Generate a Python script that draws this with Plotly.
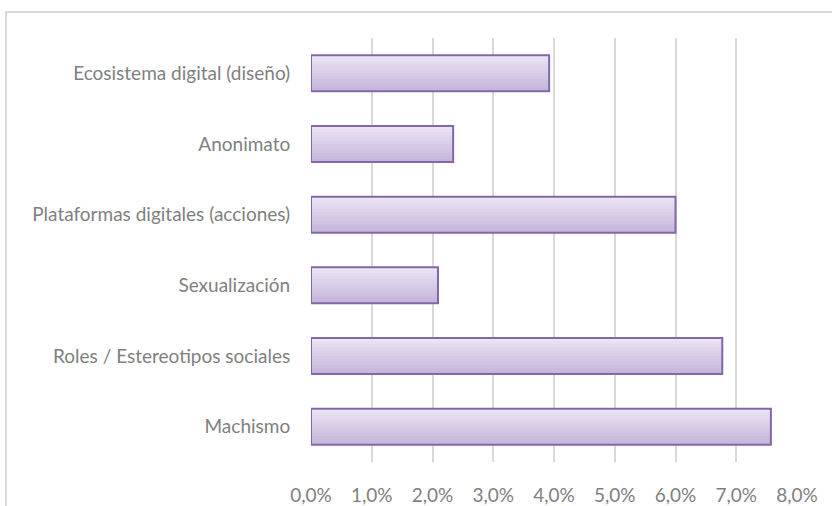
import plotly.graph_objects as go

categories = [
    "Ecosistema digital (diseño)",
    "Anonimato",
    "Plataformas digitales (acciones)",
    "Sexualización",
    "Roles / Estereotipos sociales",
    "Machismo",
]
values = [0.0392, 0.0234, 0.0600, 0.0209, 0.0677, 0.0757]
tick_vals = [0, 0.01, 0.02, 0.03, 0.04, 0.05, 0.06, 0.07, 0.08]

# gradient fill (top light -> bottom darker lavender)
top_rgb = (234, 228, 243)
bot_rgb = (198, 182, 219)
n_bands = 12
bar_w = 0.51

fig = go.Figure()
for k in range(n_bands):
    t = k / (n_bands - 1)
    rgb = tuple(round(a + (b - a) * t) for a, b in zip(top_rgb, bot_rgb))
    start = -bar_w / 2 + k * bar_w / n_bands
    fig.add_trace(go.Bar(
        y=categories, x=values, orientation="h",
        width=bar_w / 2 - start, offset=start,
        marker=dict(color="rgb(%d,%d,%d)" % rgb, line=dict(width=0)),
        hoverinfo="skip", showlegend=False,
    ))
fig.add_trace(go.Bar(
    y=categories, x=values, orientation="h",
    width=bar_w, offset=-bar_w / 2,
    marker=dict(color="rgba(0,0,0,0)", line=dict(color="#8467a8", width=2)),
    showlegend=False,
))

L, R, T, B = 311, 35, 38, 44
W, H = 832, 506
pw, ph = W - L - R, H - T - B

fig.update_layout(
    width=W, height=H,
    margin=dict(l=L, r=R, t=T, b=B, autoexpand=False),
    barmode="overlay",
    paper_bgcolor="white", plot_bgcolor="white",
    separators=",.",
    font=dict(family="Lato, Calibri, Carlito, sans-serif", size=19, color="#808080"),
    xaxis=dict(
        range=[0, 0.08], tickvals=tick_vals, tickformat=".1%",
        showgrid=True, gridcolor="#d9d9d9", gridwidth=1.5,
        zeroline=False, showline=False, automargin=False,
        ticks="outside", ticklen=16, tickcolor="rgba(0,0,0,0)",
    ),
    yaxis=dict(
        autorange="reversed", showgrid=False, zeroline=False, showline=False,
        automargin=False,
        ticks="outside", ticklen=16, tickcolor="rgba(0,0,0,0)",
    ),
    shapes=[dict(
        type="rect", xref="paper", yref="paper",
        x0=(6 - L) / pw, x1=(845 - L) / pw,
        y0=-(520 - (H - B)) / ph, y1=1 + (T - 12) / ph,
        line=dict(color="#d9d9d9", width=2), fillcolor="rgba(0,0,0,0)", layer="below",
    )],
)

fig.write_html(
    "out.html",
    config={"displayModeBar": False},
    post_script="document.body.style.margin='0';document.body.style.overflow='hidden';",
)
